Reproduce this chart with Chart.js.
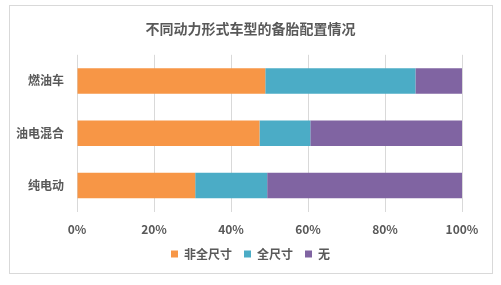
<!DOCTYPE html>
<html>
<head>
<meta charset="utf-8">
<script src="https://cdn.jsdelivr.net/npm/chart.js@4"></script>
<style>
  html, body { margin: 0; padding: 0; background: #fff; }
  #wrap { position: relative; width: 501px; height: 285px; }
  #frame { position: absolute; left: 9px; top: 5px; width: 482px; height: 267px; border: 1px solid #d9d9d9; }
  canvas { position: absolute; left: 0; top: 0; }
</style>
</head>
<body>
<div id="wrap">
  <div id="frame"></div>
  <canvas id="myChart" width="501" height="285"></canvas>
</div>
<script>
const categories = ["燃油车", "油电混合", "纯电动"];
const seriesNames = ["非全尺寸", "全尺寸", "无"];
const nonFullSize = [48.9, 47.4, 30.7];
const fullSize = [39.0, 13.2, 18.7];
const none = [12.1, 39.4, 50.6];
const tickLabels = ["0%", "20%", "40%", "60%", "80%", "100%"];

const ctx = document.getElementById("myChart");
const textColor = "#595959";
const fontFamily = "'Noto Sans CJK SC', 'Microsoft YaHei', sans-serif";

new Chart(ctx, {
  type: "bar",
  data: {
    labels: categories,
    datasets: [
      { label: seriesNames[0], data: nonFullSize, backgroundColor: "#F79646" },
      { label: seriesNames[1], data: fullSize, backgroundColor: "#4BACC6" },
      { label: seriesNames[2], data: none, backgroundColor: "#8064A2" },
    ],
  },
  options: {
    indexAxis: "y",
    responsive: false,
    animation: false,
    layout: {
      padding: { left: 0, right: 0, top: 20, bottom: 15 },
    },
    datasets: {
      bar: { barPercentage: 0.49, categoryPercentage: 1.0 },
    },
    scales: {
      x: {
        stacked: true,
        min: 0,
        max: 100,
        ticks: {
          stepSize: 20,
          padding: 11,
          color: textColor,
          font: { family: fontFamily, size: 12, weight: "bold" },
          callback: (v, i) => tickLabels[i],
        },
        grid: { color: "#d9d9d9", drawTicks: false },
        border: { display: false },
        afterFit: (scale) => {
          scale.height -= 12;
        },
      },
      y: {
        stacked: true,
        ticks: {
          padding: 13,
          color: textColor,
          font: { family: fontFamily, size: 12, weight: "bold" },
        },
        grid: { display: false, drawTicks: false },
        border: { display: false },
        afterFit: (scale) => {
          scale.width = 77;
        },
      },
      // empty right-hand spacer so the plot ends at 100% like the original
      yRight: {
        type: "category",
        position: "right",
        ticks: { display: false },
        grid: { display: false, drawTicks: false },
        border: { display: false },
        afterFit: (scale) => {
          scale.width = 39;
        },
      },
    },
    plugins: {
      title: {
        display: true,
        text: "不同动力形式车型的备胎配置情况",
        color: textColor,
        font: { family: fontFamily, size: 14, weight: "bold" },
        padding: { top: 0, bottom: 18 },
      },
      legend: {
        position: "bottom",
        labels: {
          boxWidth: 7,
          boxHeight: 7,
          padding: 12,
          color: textColor,
          font: { family: fontFamily, size: 12, weight: "bold" },
        },
      },
      tooltip: { enabled: false },
    },
  },
});
</script>
</body>
</html>
